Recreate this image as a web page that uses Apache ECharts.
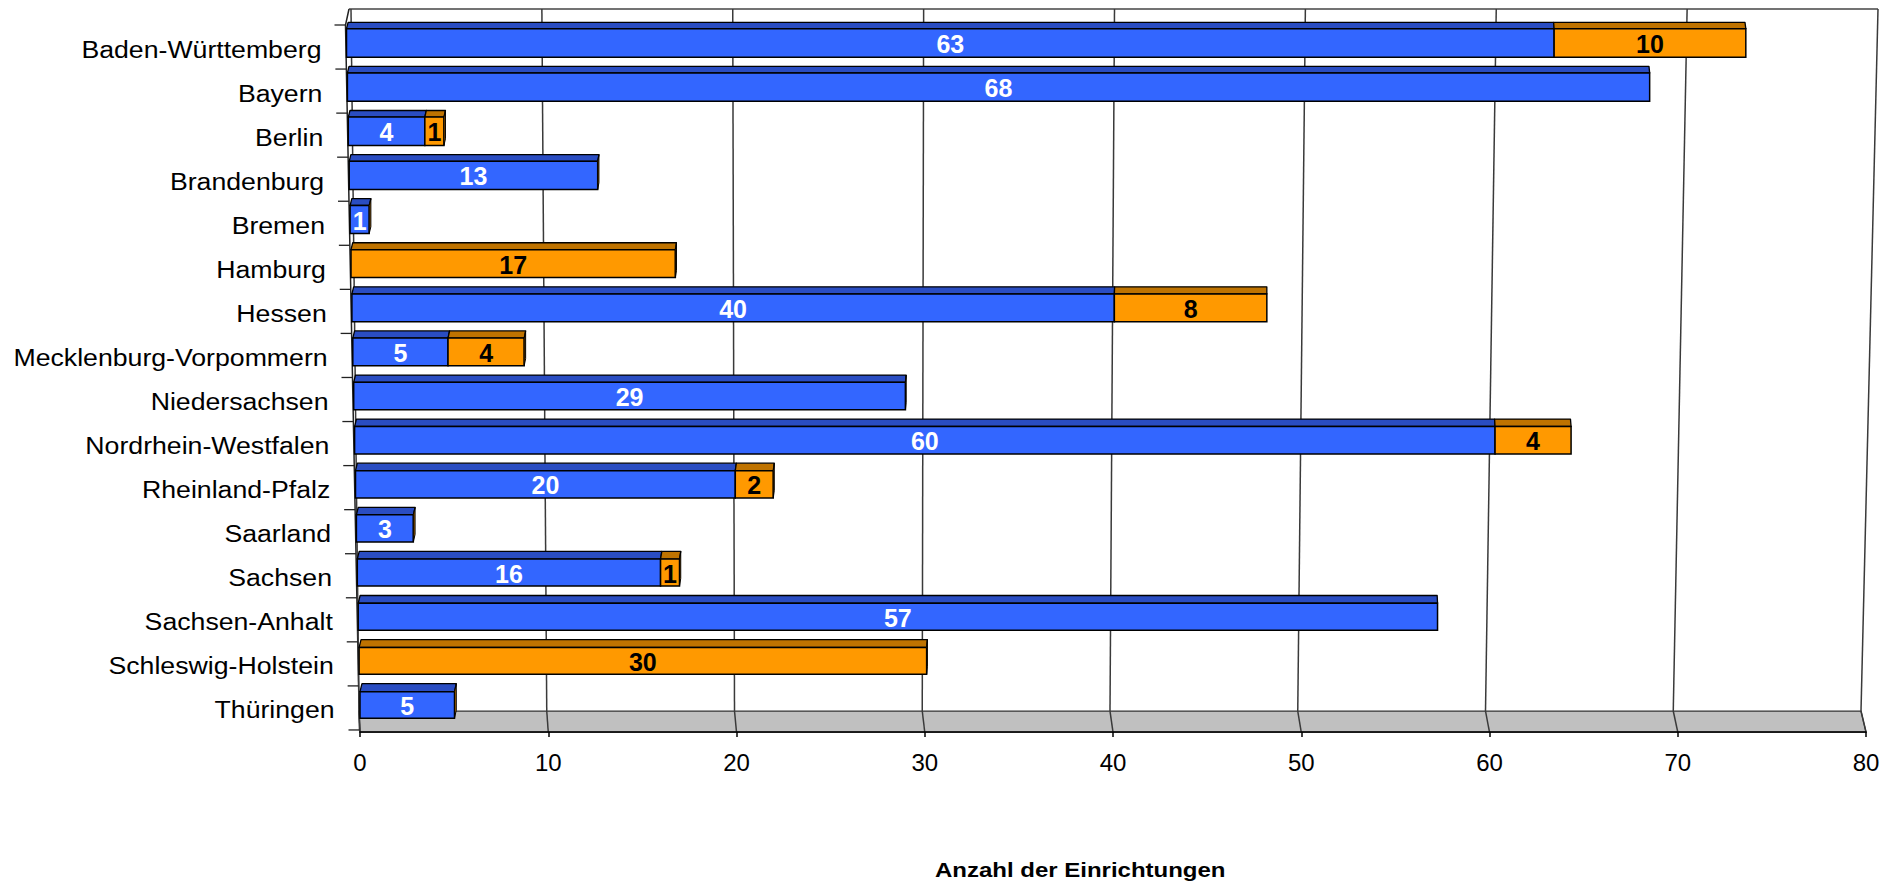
<!DOCTYPE html>
<html>
<head>
<meta charset="utf-8">
<title>Anzahl der Einrichtungen</title>
<script src="https://cdn.jsdelivr.net/npm/echarts/dist/echarts.min.js"></script>
<style>
  html, body { margin: 0; padding: 0; background: #ffffff; }
  #chart { width: 1898px; height: 885px; }
</style>
</head>
<body>
<div id="chart"></div>
<script>
// ---------------- data ----------------
const categories = ['Baden-Württemberg', 'Bayern', 'Berlin', 'Brandenburg', 'Bremen', 'Hamburg', 'Hessen',
  'Mecklenburg-Vorpommern', 'Niedersachsen', 'Nordrhein-Westfalen', 'Rheinland-Pfalz', 'Saarland',
  'Sachsen', 'Sachsen-Anhalt', 'Schleswig-Holstein', 'Thüringen'];
const blueValues   = [63, 68, 4, 13, 1, 0, 40, 5, 29, 60, 20, 3, 16, 57, 0, 5];
const orangeValues = [10, 0, 1, 0, 0, 17, 8, 4, 0, 4, 2, 0, 1, 0, 30, 0];
const xTicks = [0, 10, 20, 30, 40, 50, 60, 70, 80];
const axisTitle = 'Anzahl der Einrichtungen';

// ---------------- styles / 3D look ----------------
const FONT = '"Liberation Sans", Arial, Helvetica, sans-serif';
const C = {
  blue: '#3366FF', blueTop: '#2A4DC2',
  orange: '#FF9900', orangeTop: '#BF7300', orangeSide: '#A86500',
  edge: '#000000', grid: '#3a3a3a', floor: '#C0C0C0'
};
// bar plane perspective (left/right pixel of 0..max at first/last row)
const P = { lTop: 346.5, lBot: 360, rTop: 1880, rBot: 1872, hTop: 28.6, hBot: 26.6, dTop: 6.4, dBot: 8, skewL: 1.5, skewR: -1.0 };
// back wall perspective
const W = { yTop: 9, floorDepth: 21, lTop: 351, lBot: 359, rTop: 1878, rBot: 1861 };
const AXIS_OFFSET = 5;

const n = categories.length;
const barData = categories.map((c, i) => [blueValues[i] + orangeValues[i], i, blueValues[i], orangeValues[i]]);
const gridData = xTicks.map(v => [v, 0]);
const catData = categories.map((c, i) => [0, i]);

function lerp(a, b, t) { return a + (b - a) * t; }

function renderFrame(params, api) {
  const cs = params.coordSys;
  const fy = cs.y + cs.height + AXIS_OFFSET;
  const by = fy - W.floorDepth;
  const c0 = api.coord([0, 0])[1];
  const cN = api.coord([0, n - 1])[1];
  const t0 = c0 - 18, tN = cN + 25;
  const ax0 = 345.5, axN = 359.5;
  return {
    type: 'group',
    children: [
      { type: 'polygon', shape: { points: [[W.lBot, by], [W.rBot, by], [cs.x + cs.width, fy], [cs.x, fy]] },
        style: { fill: C.floor, stroke: '#333', lineWidth: 1.2 } },
      { type: 'line', shape: { x1: 349, y1: W.yTop, x2: W.rTop, y2: W.yTop }, style: { stroke: '#444', lineWidth: 1.5 } },
      { type: 'polyline', shape: { points: [[349, W.yTop], [ax0, t0], [axN, tN], [cs.x, fy]] },
        style: { stroke: '#222', lineWidth: 1.5, fill: null } }
    ]
  };
}

function renderGrid(params, api) {
  const cs = params.coordSys;
  const v = api.value(0);
  const fx = api.coord([v, 0])[0];
  const t = (fx - cs.x) / cs.width;
  const fy = cs.y + cs.height + AXIS_OFFSET;
  const by = fy - W.floorDepth;
  const xt = lerp(W.lTop, W.rTop, t);
  const xb = lerp(W.lBot, W.rBot, t);
  return {
    type: 'group',
    children: [
      { type: 'line', shape: { x1: xt, y1: W.yTop, x2: xb, y2: by }, style: { stroke: C.grid, lineWidth: 1.5 } },
      { type: 'line', shape: { x1: xb, y1: by, x2: fx, y2: fy }, style: { stroke: C.grid, lineWidth: 1.5 } }
    ]
  };
}

function renderBars(params, api) {
  const cs = params.coordSys;
  const i = api.value(1);
  const b = api.value(2), o = api.value(3);
  const y = api.coord([0, i])[1];
  const u = n > 1 ? i / (n - 1) : 0;
  const L = lerp(P.lTop, P.lBot, u), R = lerp(P.rTop, P.rBot, u);
  const X = v => L + ((api.coord([v, i])[0] - cs.x) / cs.width) * (R - L);
  const h = lerp(P.hTop, P.hBot, u);
  const d = lerp(P.dTop, P.dBot, u);
  const yt = y - h / 2, yb = y + h / 2;
  const dx = x => lerp(P.skewL, P.skewR, (x - P.lTop) / (P.rTop - P.lTop)) * d / 6;
  const segs = [
    { from: 0, to: b, val: b, front: C.blue, top: C.blueTop, txt: '#ffffff' },
    { from: b, to: b + o, val: o, front: C.orange, top: C.orangeTop, txt: '#000000' }
  ];
  const faces = [], labels = [];
  segs.forEach(s => {
    if (s.val <= 0) return;
    const xa = X(s.from), xb = X(s.to);
    faces.push({ type: 'polygon', shape: { points: [[xa, yt], [xb, yt], [xb + dx(xb), yt - d], [xa + dx(xa), yt - d]] },
      style: { fill: s.top, stroke: C.edge, lineWidth: 1.3, lineJoin: 'round' } });
    faces.push({ type: 'polygon', shape: { points: [[xa, yt], [xb, yt], [xb, yb], [xa, yb]] },
      style: { fill: s.front, stroke: C.edge, lineWidth: 1.5 } });
    labels.push({ type: 'text', x: (xa + xb) / 2, y: y + 1,
      style: { text: String(s.val), fill: s.txt, font: 'bold 25px ' + FONT, align: 'center', verticalAlign: 'middle' } });
  });
  const xe = X(b + o);
  const de = dx(xe);
  if (de > 0.2) {
    faces.push({ type: 'polygon', shape: { points: [[xe, yt], [xe + de, yt - d], [xe + de, yb - d], [xe, yb]] },
      style: { fill: C.orangeSide, stroke: C.edge, lineWidth: 1 } });
  }
  return { type: 'group', children: faces.concat(labels) };
}

function renderCats(params, api) {
  const i = api.value(1);
  const c0 = api.coord([0, 0])[1];
  const cN = api.coord([0, n - 1])[1];
  const t0 = c0 - 18, tN = cN + 25;
  const ax = yy => lerp(345.5, 359.5, (yy - t0) / (tN - t0));
  const step = (tN - t0) / n;
  const y = api.coord([0, i])[1];
  const u = n > 1 ? i / (n - 1) : 0;
  const ly = y + lerp(7, 5, u);
  const children = [];
  const tks = [t0 + i * step];
  if (i === n - 1) tks.push(tN);
  tks.forEach(ty => {
    children.push({ type: 'line', shape: { x1: ax(ty) - 11, y1: ty, x2: ax(ty), y2: ty }, style: { stroke: '#222', lineWidth: 1.3 } });
  });
  children.push({ type: 'text', x: ax(ly) - 24.5, y: ly, scaleX: 1.16, scaleY: 1,
    style: { text: categories[i], fill: '#000', font: '23px ' + FONT, align: 'right', verticalAlign: 'middle' } });
  return { type: 'group', children };
}

const chart = echarts.init(document.getElementById('chart'), null, { renderer: 'svg', width: 1898, height: 885 });
chart.setOption({
  animation: false,
  backgroundColor: '#ffffff',
  grid: { left: 360, right: 32, top: 20.93, bottom: 157.97, containLabel: false },
  xAxis: {
    type: 'value', min: 0, max: 80, interval: 10, offset: AXIS_OFFSET, z: 10,
    axisLine: { show: true, lineStyle: { color: '#000', width: 1.6 } },
    axisTick: { show: true, length: 5, lineStyle: { color: '#000', width: 1.5 } },
    axisLabel: { fontSize: 24, color: '#000', fontFamily: FONT, margin: 18, formatter: v => String(v) },
    splitLine: { show: false }
  },
  yAxis: {
    type: 'category', data: categories, inverse: true,
    axisLine: { show: false }, axisTick: { show: false }, axisLabel: { show: false }, splitLine: { show: false }
  },
  graphic: [
    { type: 'text', x: 935, y: 870, scaleX: 1.2, scaleY: 1,
      style: { text: axisTitle, fill: '#000', font: 'bold 20px ' + FONT, align: 'left', verticalAlign: 'middle' } }
  ],
  series: [
    { name: 'frame', type: 'custom', coordinateSystem: 'cartesian2d', z: 1, silent: true,
      data: [[0, 0]], encode: { x: 0, y: 1 }, renderItem: renderFrame },
    { name: 'grid', type: 'custom', coordinateSystem: 'cartesian2d', z: 2, silent: true,
      data: gridData, encode: { x: 0, y: 1 }, renderItem: renderGrid },
    { name: 'Einrichtungen', type: 'custom', coordinateSystem: 'cartesian2d', z: 3,
      data: barData, encode: { x: 0, y: 1 }, renderItem: renderBars },
    { name: 'Länder', type: 'custom', coordinateSystem: 'cartesian2d', z: 4, silent: true,
      data: catData, encode: { x: 0, y: 1 }, renderItem: renderCats }
  ]
});
</script>
</body>
</html>
